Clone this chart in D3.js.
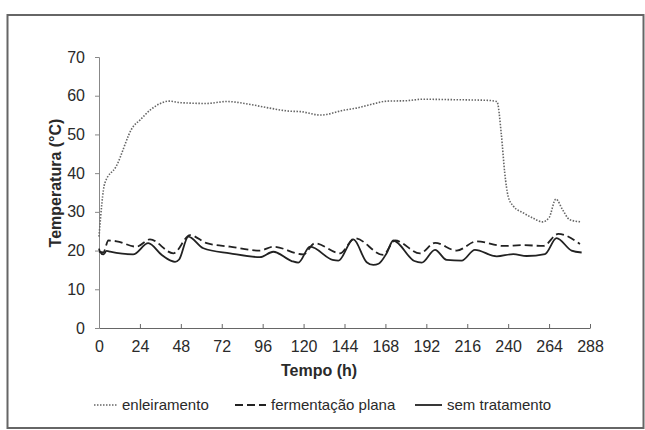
<!DOCTYPE html>
<html>
<head>
<meta charset="utf-8">
<script src="https://cdn.jsdelivr.net/npm/d3@7"></script>
<style>
  body { margin: 0; background: #fff; }
  text { font-family: "Liberation Sans", Arial, sans-serif; fill: #2a2a2a; }
  .tick text { font-family: "Liberation Sans Narrow", "Arial Narrow", "Liberation Sans", sans-serif; }
</style>
</head>
<body>
<div id="chart"></div>
<script>
// Hours and temperatures
const enleiramentoH = [0, 3.4, 10, 20, 24, 30, 36, 41, 48, 63, 75, 88, 100, 112, 118, 130, 144, 151, 160, 169, 180, 190, 204, 219, 228, 233.4, 236, 238, 240, 243, 249, 255, 260, 264, 268, 272, 276, 283]
const enleiramentoT = [23.6, 37.4, 41.7, 52, 53.7, 56.3, 58, 58.6, 58.2, 58.0, 58.5, 57.8, 56.8, 56.0, 55.9, 55.0, 56.3, 56.8, 57.8, 58.6, 58.7, 59.1, 59.0, 58.9, 58.8, 58.5, 50, 40, 34, 31.5, 29.7, 28.3, 27.4, 28.5, 33.3, 30.5, 28, 27.4]

const fermentacaoH = [0, 2.5, 5.5, 10.4, 22, 29.9, 43.6, 53.4, 63.2, 76.8, 94.4, 102.2, 119.8, 126.7, 141.3, 150.1, 166.7, 173.6, 188.3, 197.1, 209.8, 221.5, 237.1, 248.9, 260.6, 269.4, 282.1]
const fermentacaoT = [19.7, 19.5, 22.6, 22.4, 21.0, 22.9, 19.3, 24.0, 21.9, 21.0, 20.0, 21.0, 19.0, 21.9, 19.3, 23.2, 18.9, 22.6, 19.3, 22.0, 20.0, 22.4, 21.2, 21.4, 21.2, 24.3, 21.7]

const semTratH = [0, 0.6, 2.5, 4.5, 6.5, 20, 28.9, 36.7, 42, 44.6, 47, 52.4, 61.2, 76.8, 94.4, 102.2, 113, 116.9, 123.8, 137, 140.4, 149.2, 157, 160.9, 164, 168.7, 172.6, 185, 189.3, 197.1, 203.9, 212.7, 220.5, 233.3, 243, 250.8, 261.6, 268.4, 277.2, 283.1]
const semTratT = [20.5, 19.7, 19.0, 19.9, 19.7, 19.0, 21.9, 18.9, 17.4, 17.1, 17.7, 23.6, 20.6, 19.3, 18.3, 19.7, 17.3, 16.9, 21.0, 17.6, 17.4, 22.9, 17.0, 16.3, 16.6, 19.3, 22.6, 17.3, 16.9, 20.2, 17.6, 17.4, 20.2, 18.5, 19.1, 18.6, 19.1, 23.2, 20.0, 19.5]

const xTicks = d3.range(0, 289, 24)
const yTicks = d3.range(0, 71, 10)
const legendNames = ['enleiramento', 'fermentação plana', 'sem tratamento']

let width = 645
let height = 430

let svg = d3.select('#chart')
            .append('svg')
            .attr('width', width)
            .attr('height', height)

// scanned frame
svg.append('rect')
    .attr('x', 7.5)
    .attr('y', 15)
    .attr('width', 636)
    .attr('height', 413)
    .attr('fill', 'none')
    .attr('stroke', '#666')
    .attr('stroke-width', 2)

let x = d3.scaleLinear().domain([0, 288]).range([99, 590])
let y = d3.scaleLinear().domain([0, 70]).range([328, 57])

// x axis, ticks point up
let xAxis = svg.append('g')
    .attr('transform', `translate(0,${y(0)})`)
    .call(d3.axisBottom(x).tickValues(xTicks).tickSizeInner(-4).tickSizeOuter(0).tickPadding(11))
xAxis.select('.domain').attr('stroke', '#666')
xAxis.selectAll('line').attr('stroke', '#666')
xAxis.selectAll('text').attr('font-size', 16).attr('dy', '0.8em')

let yAxis = svg.append('g')
    .attr('transform', `translate(${x(0)},0)`)
    .call(d3.axisLeft(y).tickValues(yTicks).tickSize(4).tickPadding(10))
yAxis.select('.domain').attr('stroke', '#888')
yAxis.selectAll('line').attr('stroke', '#888')
yAxis.selectAll('text').attr('font-size', 16)

svg.append('text')
    .attr('x', 319)
    .attr('y', 376)
    .attr('text-anchor', 'middle')
    .attr('font-size', 16)
    .attr('font-weight', 'bold')
    .text('Tempo (h)')

svg.append('text')
    .attr('transform', 'translate(61,183) rotate(-90)')
    .attr('text-anchor', 'middle')
    .attr('font-size', 16)
    .attr('font-weight', 'bold')
    .text('Temperatura (°C)')

let line = d3.line()
    .x(d => x(d[0]))
    .y(d => y(d[1]))
    .curve(d3.curveMonotoneX)

let series = [
    { pts: d3.zip(enleiramentoH, enleiramentoT), color: '#666', w: 1.6, dash: '1.5,1.5' },
    { pts: d3.zip(fermentacaoH, fermentacaoT), color: '#222', w: 1.8, dash: '8,4' },
    { pts: d3.zip(semTratH, semTratT), color: '#222', w: 1.8, dash: null }
]

svg.selectAll('path.serie')
    .data(series)
    .enter()
    .append('path')
    .attr('class', 'serie')
    .attr('d', d => line(d.pts))
    .attr('fill', 'none')
    .attr('stroke', d => d.color)
    .attr('stroke-width', d => d.w)
    .attr('stroke-dasharray', d => d.dash)
    .attr('stroke-linejoin', 'round')

// legend
let legendX = [[94, 117], [235, 266], [415, 442]]
let legend = svg.selectAll('g.leg')
    .data(series)
    .enter()
    .append('g')
    .attr('class', 'leg')

legend.append('line')
    .attr('x1', (d, i) => legendX[i][0])
    .attr('x2', (d, i) => legendX[i][1])
    .attr('y1', 405)
    .attr('y2', 405)
    .attr('stroke', d => d.color)
    .attr('stroke-width', d => d.w)
    .attr('stroke-dasharray', d => d.dash)

legend.append('text')
    .attr('x', (d, i) => legendX[i][1] + 5)
    .attr('y', 410)
    .attr('font-size', 15)
    .text((d, i) => legendNames[i])
</script>
</body>
</html>
